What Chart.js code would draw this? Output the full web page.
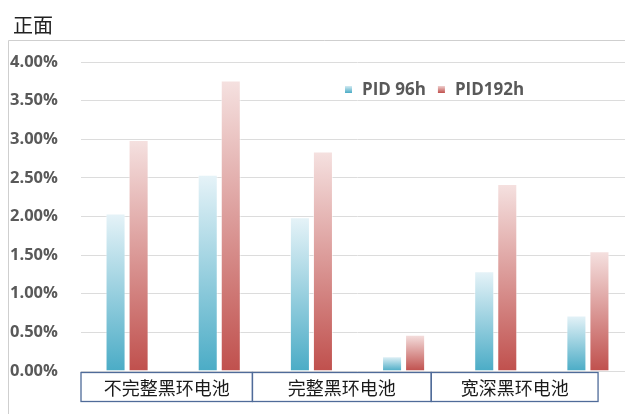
<!DOCTYPE html>
<html>
<head>
<meta charset="utf-8">
<script src="https://cdn.jsdelivr.net/npm/chart.js@4.4.1/dist/chart.umd.min.js"></script>
<style>
html, body { margin: 0; padding: 0; background: #fff; overflow: hidden; }
#wrap { position: relative; width: 640px; height: 414px; }
</style>
</head>
<body>
<div id="wrap"><canvas id="pid-graph"></canvas></div>
<script>
// two cells per battery type
const categories = ['不完整黑环电池', '不完整黑环电池', '完整黑环电池', '完整黑环电池', '宽深黑环电池', '宽深黑环电池'];
const groups = ['不完整黑环电池', '完整黑环电池', '宽深黑环电池'];
const seriesNames = ['PID 96h', 'PID192h'];
const pid96 = [2.04, 2.54, 1.99, 0.19, 1.29, 0.72];
const pid192 = [2.99, 3.76, 2.84, 0.47, 2.42, 1.55];
const yTicks = [0, 0.5, 1, 1.5, 2, 2.5, 3, 3.5, 4];

const BLUE = ['#4bacc6', '#e6f3f8'];
const RED = ['#c0504d', '#f5e1e0'];

// each bar fades from dark at the base to pale at its top
function barGradient(colors) {
    return function (context) {
        const chart = context.chart;
        if (!chart.chartArea || context.type !== 'data') return colors[0];
        const y = chart.scales.y;
        const g = chart.ctx.createLinearGradient(0, y.getPixelForValue(0), 0, y.getPixelForValue(context.raw));
        g.addColorStop(0, colors[0]);
        g.addColorStop(1, colors[1]);
        return g;
    };
}

const decorations = {
    id: 'decorations',
    afterDraw(chart, args, opts) {
        const ctx = chart.ctx;
        const x = chart.scales.x;
        const area = chart.chartArea;
        const step = x.getPixelForValue(1) - x.getPixelForValue(0);
        const atIndex = i => x.getPixelForValue(0) + i * step;
        ctx.save();

        // outer frame
        ctx.strokeStyle = '#cfcfcf';
        ctx.lineWidth = 1;
        ctx.beginPath();
        ctx.moveTo(8.5, chart.height);
        ctx.lineTo(8.5, 40.5);
        ctx.lineTo(chart.width, 40.5);
        ctx.stroke();

        // title
        ctx.fillStyle = '#222';
        ctx.font = '20px "Noto Sans CJK SC"';
        ctx.textBaseline = 'middle';
        ctx.textAlign = 'left';
        ctx.fillText('正面', 13, 25);

        // legend
        ctx.font = 'bold 17px "Open Sans"';
        let lx = opts.legendX;
        const ly = opts.legendY;
        chart.data.datasets.forEach((ds, i) => {
            const cols = i === 0 ? BLUE : RED;
            const g = ctx.createLinearGradient(0, ly + 4, 0, ly - 4);
            g.addColorStop(0, cols[0]);
            g.addColorStop(1, cols[1]);
            ctx.fillStyle = g;
            ctx.fillRect(lx, ly - 3, 7, 7);
            ctx.fillStyle = '#595959';
            ctx.fillText(ds.label, lx + 17, ly + 1);
            lx += 17 + ctx.measureText(ds.label).width + 12;
        });

        // battery type boxes under the axis
        const top = area.bottom + 1.5;
        const bottom = top + 29;
        ctx.strokeStyle = '#4f6b99';
        ctx.lineWidth = 1.3;
        ctx.font = '18px "Noto Sans CJK SC"';
        ctx.fillStyle = '#1a1a1a';
        ctx.textAlign = 'center';
        groups.forEach((name, i) => {
            const l = atIndex(opts.edges[i]);
            const r = atIndex(opts.edges[i + 1]);
            ctx.strokeRect(l, top, r - l, bottom - top);
            ctx.fillText(name, (l + r) / 2, (top + bottom) / 2 + 1);
        });
        ctx.restore();
    }
};

const ctx = document.getElementById('pid-graph').getContext('2d');
const myChart = new Chart(ctx, {
    type: 'bar',
    data: {
        labels: categories,
        datasets: [{
            label: seriesNames[0],
            data: pid96,
            backgroundColor: barGradient(BLUE),
            borderColor: 'rgba(255,255,255,0.55)',
            borderWidth: 1,
            categoryPercentage: 0.5,
            barPercentage: 0.87
        }, {
            label: seriesNames[1],
            data: pid192,
            backgroundColor: barGradient(RED),
            borderColor: 'rgba(255,255,255,0.55)',
            borderWidth: 1,
            categoryPercentage: 0.5,
            barPercentage: 0.87
        }]
    },
    options: {
        responsive: true,
        maintainAspectRatio: false,
        animation: false,
        events: [],
        layout: { padding: { left: 10, right: 6, top: 62, bottom: 43 } },
        plugins: {
            legend: { display: false },
            tooltip: { enabled: false },
            decorations: { edges: [-0.5, 1.36, 3.3, 5.11], legendX: 345, legendY: 89 }
        },
        scales: {
            x: { display: false },
            y: {
                min: 0,
                max: 4,
                afterBuildTicks(scale) {
                    scale.ticks = yTicks.map(v => ({ value: v }));
                },
                afterFit(scale) {
                    scale.width = 71;
                    scale.paddingTop = 0;
                    scale.paddingBottom = 0;
                },
                border: { display: false },
                grid: { color: '#dcdcdc', drawTicks: false },
                ticks: {
                    crossAlign: 'far',
                    color: '#595959',
                    font: { family: '"Open Sans"', weight: 'bold', size: 16.5 },
                    callback: v => v.toFixed(2) + '%'
                }
            }
        }
    },
    plugins: [decorations]
});
</script>
</body>
</html>
